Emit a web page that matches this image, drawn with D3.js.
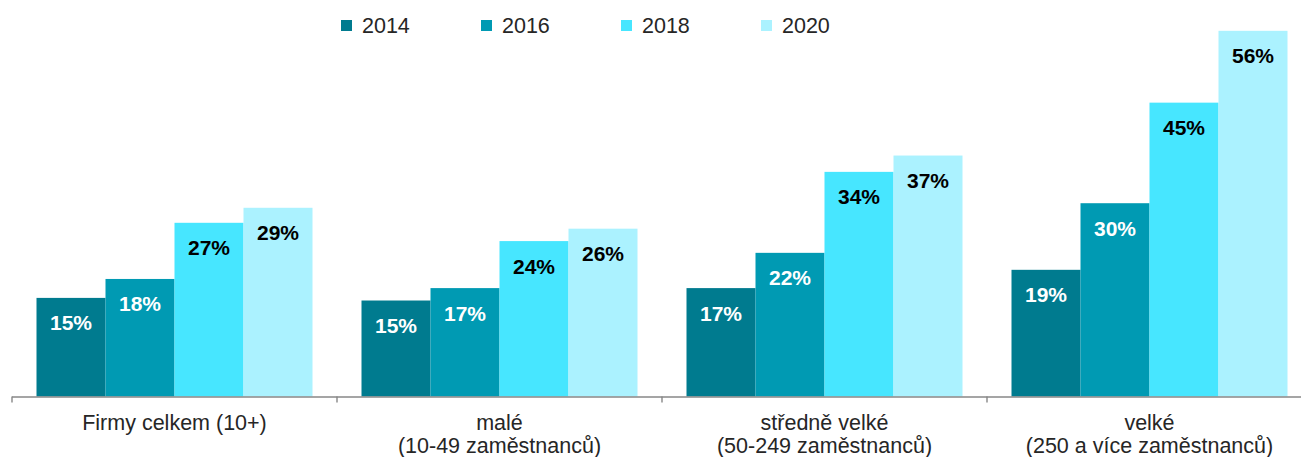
<!DOCTYPE html>
<html lang="cs">
<head>
  <meta charset="UTF-8">
  <title>Firmy</title>
  <style>
    * { box-sizing: border-box; }
    body { margin: 0; background: #fff; }
    svg { display: block; font-family: Arial, "Liberation Sans", sans-serif; }
    .cat { font-size: 21.5px; fill: #262626; }
    .val { font-size: 21px; font-weight: bold; }
    .leg { font-size: 21.5px; fill: #262626; }
  </style>
</head>
<body>
<svg id="chart" width="1301" height="457"></svg>
<script src="https://d3js.org/d3.v7.min.js"></script>
<script>
var categories = [
  ["Firmy celkem (10+)"],
  ["malé", "(10-49 zaměstnanců)"],
  ["středně velké", "(50-249 zaměstnanců)"],
  ["velké", "(250 a více zaměstnanců)"]
];
var years = ["2014", "2016", "2018", "2020"];
// bar heights (labels show them rounded)
var v2014 = [15.1, 14.7, 16.6, 19.4];
var v2016 = [18.0, 16.6, 22.0, 29.6];
var v2018 = [26.6, 23.8, 34.4, 45.0];
var v2020 = [28.9, 25.7, 36.9, 56.0];
var colors = ["#007b8f", "#009ab3", "#47e6ff", "#abf2ff"];
var labelColors = ["#fff", "#fff", "#000", "#000"];

var series = [v2014, v2016, v2018, v2020];
var svg = d3.select("#chart");

var x = d3.scaleBand()
  .domain(d3.range(categories.length))
  .range([12, 1312])
  .paddingInner(0)
  .paddingOuter(0);

var inner = d3.scaleBand()
  .domain(d3.range(years.length))
  .range([24.5, x.bandwidth() - 24.5]);

var y = d3.scaleLinear().domain([0, 60]).range([396.5, 4.7]);

// bars
var groups = svg.selectAll("g.grp")
  .data(categories)
  .enter().append("g")
  .attr("class", "grp")
  .attr("transform", (d, i) => "translate(" + x(i) + ",0)");

groups.each(function (c, ci) {
  var g = d3.select(this);
  var rows = series.map((s, si) => ({ si: si, v: s[ci] }));
  g.selectAll("rect")
    .data(rows)
    .enter().append("rect")
    .attr("x", d => inner(d.si))
    .attr("y", d => y(d.v))
    .attr("width", inner.bandwidth())
    .attr("height", d => y(0) - y(d.v))
    .attr("fill", d => colors[d.si]);
  g.selectAll("text.val")
    .data(rows)
    .enter().append("text")
    .attr("class", "val")
    .attr("x", d => inner(d.si) + inner.bandwidth() / 2)
    .attr("y", d => y(d.v) + 32.5)
    .attr("text-anchor", "middle")
    .attr("fill", d => labelColors[d.si])
    .text(d => Math.round(d.v) + "%");
});

// axis line with ticks at band edges
var axis = svg.append("g");
axis.append("line")
  .attr("x1", x.range()[0]).attr("x2", x.range()[1])
  .attr("y1", y(0) + 0.5).attr("y2", y(0) + 0.5)
  .attr("stroke", "#878787").attr("stroke-width", 1.6);
var edges = d3.range(categories.length).map(i => x(i)).concat([x.range()[1]]);
axis.selectAll("line.tick")
  .data(edges)
  .enter().append("line")
  .attr("class", "tick")
  .attr("x1", d => d).attr("x2", d => d)
  .attr("y1", y(0)).attr("y2", y(0) + 6)
  .attr("stroke", "#878787").attr("stroke-width", 1.4);

// category labels
svg.selectAll("text.cat")
  .data(categories)
  .enter().append("text")
  .attr("class", "cat")
  .attr("text-anchor", "middle")
  .attr("x", (d, i) => x(i) + x.bandwidth() / 2)
  .attr("y", 430)
  .each(function (lines) {
    var t = d3.select(this);
    lines.forEach((l, li) => {
      t.append("tspan")
        .attr("x", t.attr("x"))
        .attr("dy", li === 0 ? 0 : 22.5)
        .text(l);
    });
  });

// legend
var leg = svg.selectAll("g.leg")
  .data(years)
  .enter().append("g")
  .attr("transform", (d, i) => "translate(" + (341 + i * 140) + ",0)");
leg.append("rect")
  .attr("x", 0).attr("y", 20)
  .attr("width", 11).attr("height", 11)
  .attr("fill", (d, i) => colors[i]);
leg.append("text")
  .attr("class", "leg")
  .attr("x", 21).attr("y", 33)
  .text(d => d);
</script>
</body>
</html>
